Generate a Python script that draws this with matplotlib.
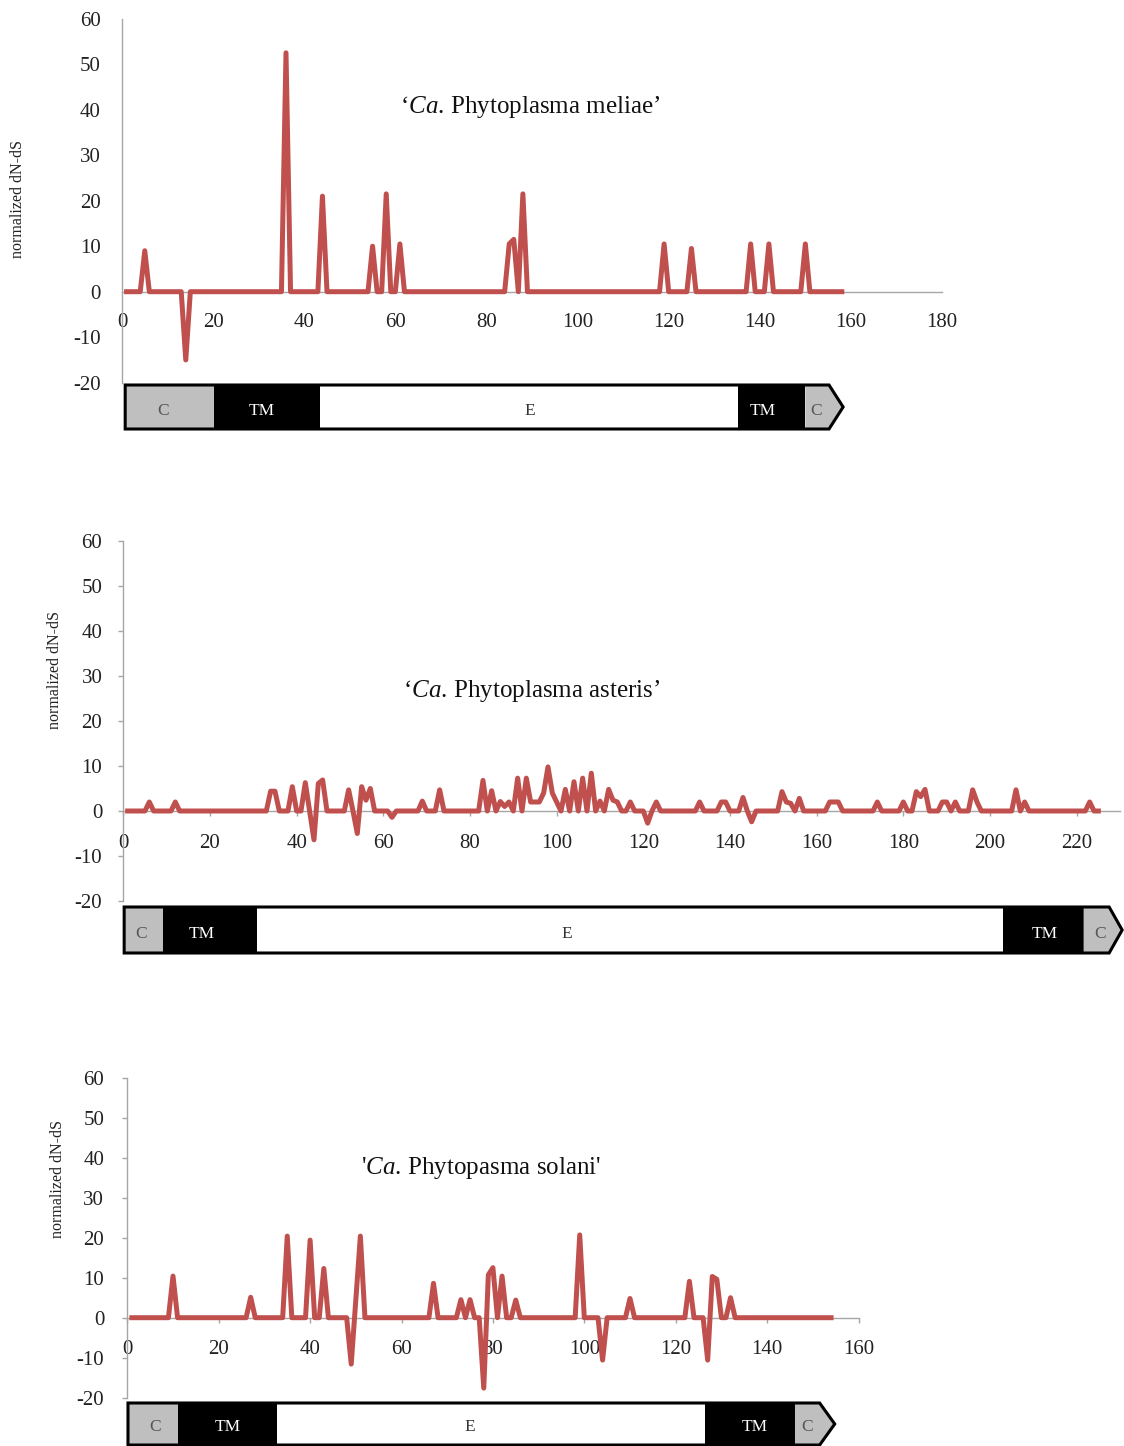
import numpy as np
import matplotlib
matplotlib.use('Agg')
import matplotlib.pyplot as plt
from matplotlib.patches import Rectangle, Polygon

plt.rcParams['font.family'] = ['Liberation Serif', 'DejaVu Serif']
plt.rcParams['mathtext.fontset'] = 'custom'
plt.rcParams['mathtext.rm'] = 'Liberation Serif'
plt.rcParams['mathtext.it'] = 'Liberation Serif:italic'
plt.rcParams['axes.unicode_minus'] = False

# ---- data: residue positions with a non-zero normalized dN-dS (others are 0)
meliae_len = 158
meliae_pos = [5, 14, 36, 44, 55, 58, 61, 85, 86, 88, 119, 125, 138, 142, 150]
meliae_val = [9, -15, 52.5, 21, 10, 21.5, 10.5, 10.5, 11.5, 21.5, 10.5, 9.5, 10.5, 10.5, 10.5]

asteris_len = 225
asteris_pos = [6, 12, 34, 35, 39, 42, 44, 45, 46, 52, 54, 55, 56, 57, 62, 69, 73,
               83, 85, 87, 88, 89, 91, 93, 94, 95, 96, 97, 98, 99, 100, 102, 104,
               106, 108, 110, 112, 113, 114, 117, 121, 123, 133, 138, 139, 143, 145,
               152, 153, 154, 156, 163, 164, 165, 174, 180, 183, 184, 185, 189, 190,
               192, 196, 197, 206, 208, 223]
asteris_val = [2, 2, 4.4, 4.4, 5.4, 6.3, -6.4, 6.1, 6.9, 4.7, -5, 5.4, 2.4, 5, -1.4, 2.2, 4.7,
               6.8, 4.5, 2.1, 1, 2, 7.3, 7.3, 2, 2, 2, 4, 9.8, 4, 2, 4.8, 6.5,
               7.3, 8.4, 2.2, 4.8, 2.4, 2, 2, -2.7, 2, 2, 2, 2, 3, -2.4,
               4.3, 2, 1.7, 2.8, 2, 2, 2, 2, 2, 4.3, 3.2, 4.8, 2, 2,
               2, 4.7, 2, 4.7, 2, 2]

solani_len = 154
solani_pos = [10, 27, 35, 40, 43, 49, 50, 51, 67, 73, 75, 78, 79, 80, 82, 85,
              99, 104, 110, 123, 127, 128, 129, 132]
solani_val = [10.4, 5.1, 20.4, 19.4, 12.3, -11.6, 4.4, 20.4, 8.6, 4.5, 4.5, -17.6, 10.7, 12.5, 10.4, 4.4,
              20.7, -10.6, 4.8, 9.1, -10.6, 10.3, 9.6, 5]

# domain map: C, TM, E, TM, C (last two edges = arrow notch and tip)
domain_names = ['C', 'TM', 'E', 'TM', 'C']
meliae_dom = [0.7, 20.2, 43.5, 135.2, 150.0, 155.2, 158.3]
asteris_dom = [0.2, 9.2, 30.9, 203.0, 221.6, 227.5, 230.5]
solani_dom = [0.15, 11.1, 32.8, 126.4, 146.1, 151.5, 154.8]

titles = ["‘$\\mathit{Ca.}\\,$Phytoplasma meliae’",
          "‘$\\mathit{Ca.}\\,$Phytoplasma asteris’",
          "'$\\mathit{Ca.}\\,$Phytopasma solani'"]

RED = '#C0504D'
GREY_AX = '#A6A6A6'
W, H = 1124, 1446

fig = plt.figure(figsize=(W / 100, H / 100), dpi=100)


def px_axes(left, top, right, bottom):
    return fig.add_axes([left / W, 1 - bottom / H, (right - left) / W, (bottom - top) / H])


def profile(length, pos, val):
    y = np.zeros(length)
    y[np.array(pos) - 1] = val
    return np.arange(1, length + 1), y


def panel(box, bar_box, length, pos, val, xmax, xtick_max, ticklen, xpad, ypad,
          title, title_xy, ylab_xy, dom, dom_text_x):
    ax = px_axes(*box)
    x, y = profile(length, pos, val)
    ax.plot(x, y, color=RED, lw=3.6, solid_joinstyle='round', zorder=3)
    ax.set_xlim(0, xmax)
    ax.set_ylim(-20, 60)
    for s in ['top', 'right']:
        ax.spines[s].set_visible(False)
    ax.spines['bottom'].set_position(('data', 0))
    for s in ['left', 'bottom']:
        ax.spines[s].set_color(GREY_AX)
        ax.spines[s].set_linewidth(1.0)
    ax.set_xticks(np.arange(0, xtick_max + 1, 20))
    ax.set_yticks(np.arange(-20, 61, 10))
    ax.tick_params(axis='x', length=ticklen, width=1, color=GREY_AX, pad=xpad,
                   labelsize=15, labelcolor='#222222')
    ax.tick_params(axis='y', length=ticklen, width=1, color=GREY_AX, pad=ypad,
                   labelsize=15, labelcolor='#222222')
    ax.patch.set_visible(False)

    fig.text(title_xy[0] / W, 1 - title_xy[1] / H, title, ha='center', va='center',
             fontsize=18, color='#111111')
    fig.text(ylab_xy[0] / W, 1 - ylab_xy[1] / H, 'normalized dN-dS', rotation=90,
             ha='center', va='center', fontsize=11.5, color='#222222')

    # domain map below the plot
    bx = px_axes(bar_box[0], bar_box[1], box[2], bar_box[2])
    bx.set_xlim(0, xmax)
    bx.set_ylim(0, 1)
    bx.axis('off')
    fills = ['#BFBFBF', 'black', 'white', 'black', '#BFBFBF']
    tcols = ['#555555', 'white', '#333333', 'white', '#555555']
    for i in range(4):
        bx.add_patch(Rectangle((dom[i], 0), dom[i + 1] - dom[i], 1, facecolor=fills[i],
                               edgecolor='none', clip_on=False))
    bx.add_patch(Polygon([(dom[4], 0), (dom[5], 0), (dom[6], 0.5), (dom[5], 1), (dom[4], 1)],
                         closed=True, facecolor=fills[4], edgecolor='none', clip_on=False))
    bx.add_patch(Polygon([(dom[0], 0), (dom[5], 0), (dom[6], 0.5), (dom[5], 1), (dom[0], 1)],
                         closed=True, facecolor='none', edgecolor='black', lw=2.2,
                         joinstyle='miter', clip_on=False))
    for name, tx, c in zip(domain_names, dom_text_x, tcols):
        bx.text(tx, 0.42, name, ha='center', va='center', fontsize=12.5, color=c)
    return ax


panel((122, 18.7, 942, 382.7), (122, 385, 429), meliae_len, meliae_pos, meliae_val,
      180, 180, 0, 15.5, 15.5, titles[0], (530, 107), (18, 199),
      meliae_dom, [9.0, 30.7, 89.6, 140.7, 152.4])

panel((123.3, 541, 1120, 901), (123.3, 907, 953), asteris_len, asteris_pos, asteris_val,
      230, 220, 3.6, 13, 11.5, titles[1], (532, 691), (55, 670),
      asteris_dom, [4.1, 18.2, 102.4, 212.7, 225.4])

panel((127.3, 1077.7, 858.5, 1397.7), (127.3, 1403, 1445), solani_len, solani_pos, solani_val,
      160, 160, 3.6, 12.5, 13, titles[2], (481, 1168), (58, 1179),
      solani_dom, [6.1, 22.0, 75.0, 137.2, 148.7])

fig.savefig('out.png', dpi=100)
